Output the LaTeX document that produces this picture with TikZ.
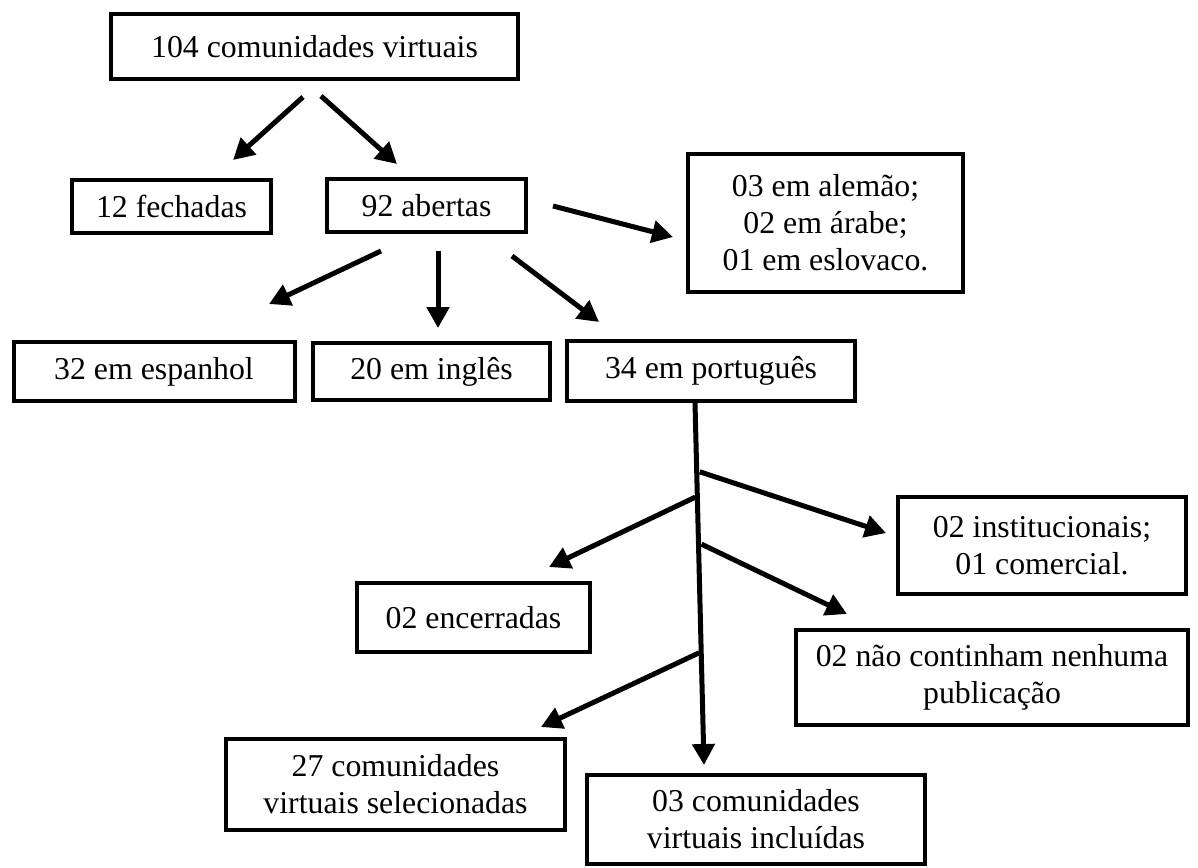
\documentclass[tikz,border=0pt]{standalone}
\usepackage{fontspec}
\setmainfont{Liberation Serif}
\usepackage{tikz}
\usetikzlibrary{
  	positioning,
  	arrows.meta,
  	calc
  }
\tikzstyle{caixa}=[draw,line width=4pt,rectangle,inner sep=0pt,align=center,
  font=\fontsize{31.8pt}{37pt}\selectfont]
\tikzstyle{seta}=[line width=5pt,-{Triangle[length=21pt,width=22pt]}]

\begin{document}
\begin{tikzpicture}[x=1pt,y=-1pt]
\useasboundingbox (0,0) rectangle (1198,867);
% caixas
\node[caixa,minimum width=407pt,minimum height=65pt] (total) at (314.5,46.5) {104 comunidades virtuais};
\node[caixa,minimum width=199pt,minimum height=53pt] (fechadas) at (171.5,206.5) {12 fechadas};
\node[caixa,minimum width=199pt,minimum height=53pt] (abertas) at (426.5,205.5) {92 abertas};
\node[caixa,minimum width=275pt,minimum height=138pt] (outras) at (825.5,223) {03 em alemão;\\02 em árabe;\\01 em eslovaco.};
\node[caixa,minimum width=281pt,minimum height=59pt] (espanhol) at (154,371.5) {32 em espanhol};
\node[caixa,minimum width=237pt,minimum height=57pt] (ingles) at (431.5,371.5) {20 em inglês};
\node[caixa,minimum width=288pt,minimum height=60pt] (portugues) at (711,371) {34 em português};
\node[caixa,minimum width=288pt,minimum height=97pt] (instit) at (1042,545.5) {02 institucionais;\\01 comercial.};
\node[caixa,minimum width=233pt,minimum height=69pt] (encerradas) at (473.5,617.5) {02 encerradas};
\node[caixa,minimum width=392pt,minimum height=95pt] (vazias) at (992,677.5) {02 não continham nenhuma\\publicação};
\node[caixa,minimum width=339pt,minimum height=91pt] (selec) at (395.5,784.5) {27 comunidades\\virtuais selecionadas};
\node[caixa,minimum width=338pt,minimum height=89pt] (inclu) at (756,819.5) {03 comunidades\\virtuais incluídas};
% pontas das setas
\coordinate (t1) at (303,97);   \coordinate (t1e) at (233,160);
\coordinate (t2) at (321,96);   \coordinate (t2e) at (397,164);
\coordinate (a1) at (553,206);  \coordinate (a1e) at (673,237);
\coordinate (a2) at (381,251);  \coordinate (a2e) at (269,304);
\coordinate (a3) at (438,251);  \coordinate (a3e) at (438,328);
\coordinate (a4) at (512,256);  \coordinate (a4e) at (599,322);
\coordinate (tronco) at ($(portugues.south)+(-16,0)$);
\coordinate (troncoe) at (704,765);
\coordinate (p1) at ($(tronco)!0.19!(troncoe)$); \coordinate (p1e) at (886,533);
\coordinate (p2) at ($(tronco)!0.26!(troncoe)$); \coordinate (p2e) at (549,567);
\coordinate (p3) at ($(tronco)!0.39!(troncoe)$); \coordinate (p3e) at (847,614);
\coordinate (p4) at ($(tronco)!0.69!(troncoe)$); \coordinate (p4e) at (541,727);
% setas
\draw[seta] (t1) -- (t1e);
\draw[seta] (t2) -- (t2e);
\draw[seta] (a1) -- (a1e);
\draw[seta] (a2) -- (a2e);
\draw[seta] (a3) -- (a3e);
\draw[seta] (a4) -- (a4e);
\draw[seta] (tronco) -- (troncoe);
\draw[seta] ([xshift=3pt]p1) -- (p1e);
\draw[seta] ([xshift=-2pt]p2) -- (p2e);
\draw[seta] ([xshift=3pt]p3) -- (p3e);
\draw[seta] ([xshift=-2pt]p4) -- (p4e);
\end{tikzpicture}
\end{document}
